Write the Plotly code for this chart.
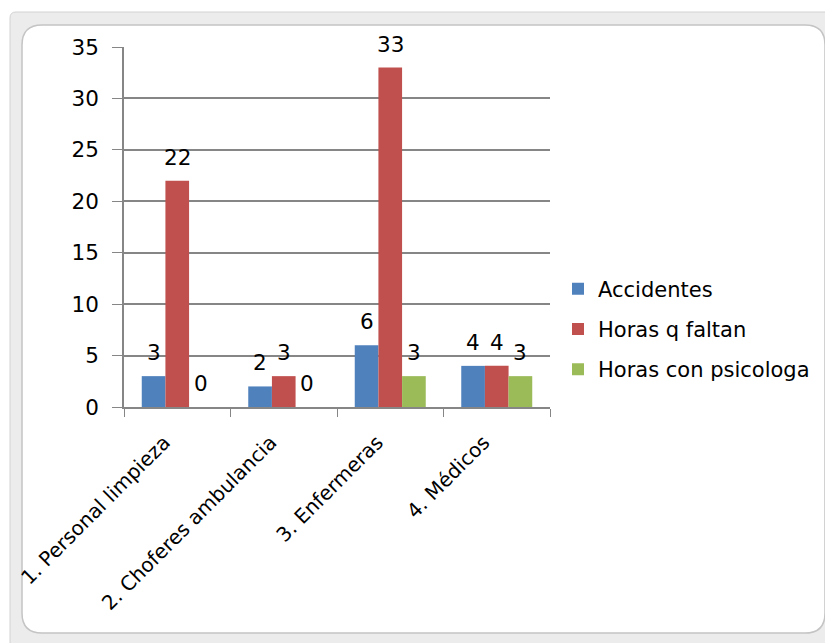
import plotly.graph_objects as go

categories = ["1. Personal limpieza", "2. Choferes ambulancia", "3. Enfermeras", "4. Médicos"]
accidentes = [3, 2, 6, 4]
horas_faltan = [22, 3, 33, 4]
horas_psicologa = [0, 0, 3, 3]
series_names = ["Accidentes", "Horas q faltan", "Horas con psicologa"]
colors = ["#4F81BD", "#C0504D", "#9BBB59"]
y_ticks = [0, 5, 10, 15, 20, 25, 30, 35]

OFF = 8  # default page body margin
W, H = 833 - OFF, 643 - OFF
PL, PR, PT, PB = 124 - OFF, 550 - OFF, 47 - OFF, 407 - OFF
FONT = "DejaVu Sans, sans-serif"
FS = 21.5
FSL = 21
FSX = 20


def px(x):
    return (x - OFF - PL) / (PR - PL)


def py(y):
    return (PB - (y - OFF)) / (PB - PT)


def rrect(x0, y0, x1, y1, r):
    return (f"M {px(x0+r)},{py(y0)} L {px(x1-r)},{py(y0)} "
            f"Q {px(x1)},{py(y0)} {px(x1)},{py(y0+r)} "
            f"L {px(x1)},{py(y1-r)} Q {px(x1)},{py(y1)} {px(x1-r)},{py(y1)} "
            f"L {px(x0+r)},{py(y1)} Q {px(x0)},{py(y1)} {px(x0)},{py(y1-r)} "
            f"L {px(x0)},{py(y0+r)} Q {px(x0)},{py(y0)} {px(x0+r)},{py(y0)} Z")


fig = go.Figure()
all_series = [accidentes, horas_faltan, horas_psicologa]
for i, (name, vals, c) in enumerate(zip(series_names, all_series, colors)):
    fig.add_trace(go.Bar(
        x=categories, y=vals, name=name, marker_color=c, marker_line_width=0,
        legendgroup=name,
    ))

# data labels as annotations (Excel places them a bit above the bar)
cat_w = (PR - PL) / len(categories)
bar_w = cat_w * (1 - 1 / 3) / 3
annotations = []
for i, vals in enumerate(all_series):
    for cat, v in zip(categories, vals):
        annotations.append(dict(
            x=cat, y=v, xref="x", yref="y", text=str(v), showarrow=False,
            yanchor="bottom", xanchor="center", xshift=(i - 1) * bar_w, yshift=9,
            font=dict(size=FS, color="#000000", family=FONT),
        ))

fig.update_layout(
    width=W, height=H,
    margin=dict(l=PL, r=W - PR, t=PT, b=H - PB),
    paper_bgcolor="white", plot_bgcolor="white",
    barmode="group", bargap=1 / 3, bargroupgap=0,
    font=dict(family=FONT, size=FS, color="#000000"),
    showlegend=True,
    legend=dict(x=px(558), y=py(329), xanchor="left", yanchor="middle",
                font=dict(size=FSL, family=FONT), bgcolor="rgba(0,0,0,0)",
                itemwidth=30, tracegroupgap=10, borderwidth=0),
    xaxis=dict(type="category", tickangle=-45, showline=True, linecolor="#868686",
               linewidth=1.5, ticks="outside", tickson="boundaries", ticklen=8,
               tickcolor="#868686", showgrid=False, tickfont=dict(size=FSX),
               ticklabelstandoff=14, ticklabelshift=-13, automargin=False),
    yaxis=dict(range=[0, 35], tickvals=y_ticks, showline=True, linecolor="#868686",
               linewidth=1.5, ticks="outside", ticklen=10, tickcolor="#868686",
               gridcolor="#868686", gridwidth=1.5, zeroline=False,
               ticklabelstandoff=9, tickfont=dict(size=FS), automargin=False),
    annotations=annotations,
    shapes=[
        dict(type="path", xref="paper", yref="paper", layer="below",
             path=rrect(10, 12, 845, 655, 6), fillcolor="#ECECEC",
             line=dict(color="#D2D2D2", width=1)),
        dict(type="path", xref="paper", yref="paper", layer="below",
             path=rrect(22, 25, 825, 633, 20), fillcolor="white",
             line=dict(color="#C4C4C4", width=1.5)),
    ],
)

fig.write_html("out.html")
